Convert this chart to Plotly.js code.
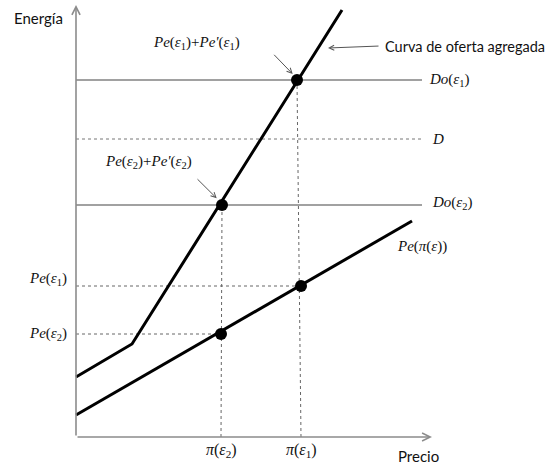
<!DOCTYPE html>
<html>
<head>
<meta charset="utf-8">
<script src="https://cdn.plot.ly/plotly-3.0.1.min.js"></script>
<style>
  html, body { margin: 0; padding: 0; background: #fff; }
  #chart { width: 549px; height: 466px; }
</style>
</head>
<body>
<div id="chart"></div>
<script>
// Aggregate supply curve (kinked) and the Pe(pi(eps)) curve
const supplyX = [0, 5.6, 26.6];
const supplyY = [6.0, 9.3, 42.7];
const peCurveX = [0, 33.6];
const peCurveY = [2.2, 21.6];

// Demand levels drawn across the chart
const demandLabels = ['<i>Do</i>(<i>ε</i><sub>1</sub>)', '<i>D</i>', '<i>Do</i>(<i>ε</i><sub>2</sub>)'];
const demandLevels = [35.7, 29.8, 23.2];
const demandDotted = [false, true, false];
const demandEnd = 34.6;

// Price levels on the x axis
const priceLabels = ['<i>π</i>(<i>ε</i><sub>2</sub>)', '<i>π</i>(<i>ε</i><sub>1</sub>)'];
const priceValues = [14.5, 22.5];
const priceTopX = [14.6, 22.1];
const priceTopY = [23.2, 35.7];

// Pe levels on the y axis
const peLabels = ['<i>Pe</i>(<i>ε</i><sub>1</sub>)', '<i>Pe</i>(<i>ε</i><sub>2</sub>)'];
const peLevels = [15.1, 10.3];
const peEndX = [22.5, 14.5];

// Equilibrium points
const dotX = [14.6, 22.1, 14.5, 22.5];
const dotY = [23.2, 35.7, 10.3, 15.1];

const serif = 'Liberation Serif, Times New Roman, serif';
const sans = 'Lato, Open Sans, sans-serif';
const axisGray = '#8c8c8c';

const traces = [];

// horizontal demand lines
demandLevels.forEach((v, i) => {
  traces.push({
    x: [0, demandEnd], y: [v, v], mode: 'lines', hoverinfo: 'skip',
    line: demandDotted[i] ? {color: '#777', width: 1, dash: 'dot'} : {color: '#444', width: 1.2}
  });
});

// dotted Pe levels
peLevels.forEach((v, i) => {
  traces.push({
    x: [0, peEndX[i]], y: [v, v], mode: 'lines', hoverinfo: 'skip',
    line: {color: '#666', width: 1, dash: 'dot'}
  });
});

// dotted price drop lines
priceValues.forEach((v, i) => {
  traces.push({
    x: [v, priceTopX[i]], y: [0, priceTopY[i]], mode: 'lines', hoverinfo: 'skip',
    line: {color: '#666', width: 1, dash: 'dot'}
  });
});

// curves
traces.push({x: supplyX, y: supplyY, mode: 'lines', hoverinfo: 'skip', line: {color: '#000', width: 3}});
traces.push({x: peCurveX, y: peCurveY, mode: 'lines', hoverinfo: 'skip', line: {color: '#000', width: 3}});

// points
traces.push({x: dotX, y: dotY, mode: 'markers', hoverinfo: 'skip', marker: {color: '#000', size: 12}});

const ann = [];
function label(x, y, text, opts) {
  ann.push(Object.assign({
    x: x, y: y, xref: 'x', yref: 'y', text: text, showarrow: false,
    font: {family: serif, size: 15, color: '#111'}
  }, opts || {}));
}
function arrow(x0, y0, x1, y1, opts) {
  ann.push(Object.assign({
    x: x1, y: y1, ax: x0, ay: y0, xref: 'x', yref: 'y', axref: 'x', ayref: 'y',
    text: '', showarrow: true, arrowhead: 5, arrowsize: 1, arrowwidth: 1,
    arrowcolor: '#555', standoff: 0, startstandoff: 0
  }, opts || {}));
}

// axes with arrow tips
arrow(0, 0, 0, 43.2, {arrowcolor: axisGray, arrowwidth: 1.6, arrowsize: 1});
arrow(0, 0, 35.6, 0, {arrowcolor: axisGray, arrowwidth: 1.6, arrowsize: 1});

// axis titles
label(-3.75, 41.9, 'Energía', {font: {family: sans, size: 15, color: '#111'}});
label(34.2, -1.9, 'Precio', {font: {family: sans, size: 15, color: '#111'}});

// supply curve callout
label(30.7, 39.1, 'Curva de oferta agregada', {xanchor: 'left', font: {family: sans, size: 14.5, color: '#111'}});
arrow(30.4, 39.1, 25.2, 38.9);

// Pe + Pe' callouts
label(12.07, 39.43, '<i>Pe</i>(<i>ε</i><sub>1</sub>)+<i>Pe\'</i>(<i>ε</i><sub>1</sub>)');
arrow(19.67, 38.37, 21.67, 36.3);
label(7.2, 27.53, '<i>Pe</i>(<i>ε</i><sub>2</sub>)+<i>Pe\'</i>(<i>ε</i><sub>2</sub>)');
arrow(12.0, 25.93, 14.07, 23.87);

// right-hand level labels
const demandLabelX = [35.07, 35.4, 35.4];
demandLevels.forEach((v, i) => label(demandLabelX[i], v + (i === 2 ? 0.2 : 0), demandLabels[i], {xanchor: 'left'}));
label(31.9, 19.03, '<i>Pe</i>(<i>π</i>(<i>ε</i>))', {xanchor: 'left'});

// left-hand Pe labels
label(-0.7, 15.8, peLabels[0], {xanchor: 'right'});
label(-0.7, 10.3, peLabels[1], {xanchor: 'right'});

// price labels under the axis
priceValues.forEach((v, i) => label(v, -1.3, priceLabels[i], {font: {family: serif, size: 16, color: '#111'}}));

// 10 px per unit, origin at (76, 437) px
const layout = {
  width: 549, height: 466,
  margin: {l: 0, r: 0, t: 0, b: 0, pad: 0},
  paper_bgcolor: '#fff', plot_bgcolor: '#fff',
  showlegend: false,
  xaxis: {range: [-7.6, 47.3], visible: false, fixedrange: true},
  yaxis: {range: [-2.9, 43.7], visible: false, fixedrange: true},
  annotations: ann
};

Plotly.newPlot('chart', traces, layout, {displayModeBar: false, staticPlot: true});
</script>
</body>
</html>
